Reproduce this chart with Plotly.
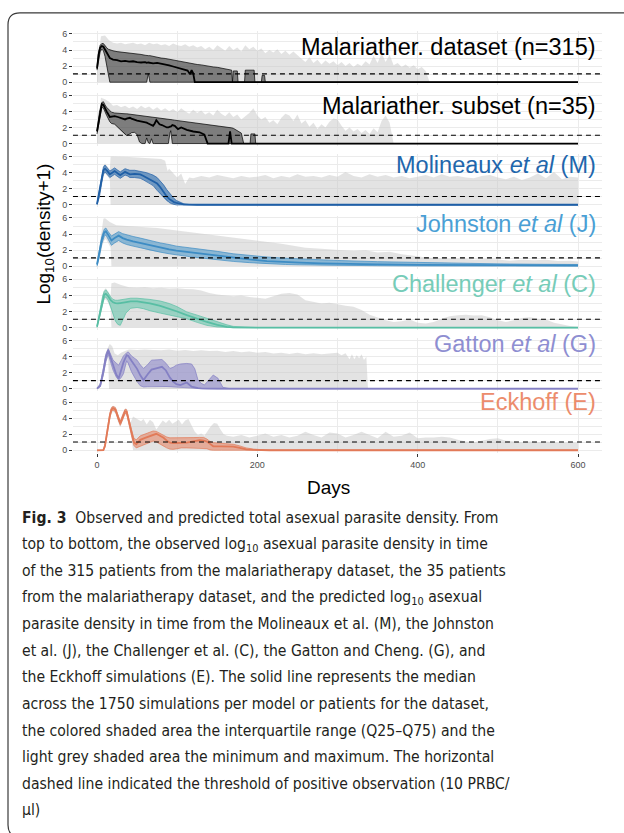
import plotly.graph_objects as go

W, H = 624, 833
THRESHOLD = 1.04  # log10(10 + 1): threshold of positive observation

X_TICKS = [0, 200, 400, 600]
X_MINOR = [100, 300, 500]
Y_TICKS = [0, 2, 4, 6]
Y_MINOR = [1, 3, 5]

# ---------------- Panel 1 : Malariatherapy dataset (n=315) ----------------
P1_GREY_DAYS = list(range(0, 415, 5)) + [415]
P1_GREY_MAX = [2.2, 5.7, 5.8, 5.2, 4.9, 4.8, 4.9, 4.7, 4.8, 4.9,
               4.7, 4.8, 4.6, 4.9, 4.7, 4.8, 4.6, 4.7, 4.5, 4.8,
               4.6, 4.5, 4.7, 4.4, 4.6, 4.3, 4.5, 4.1, 4.4, 4.0,
               4.6, 4.2, 3.9, 4.5, 4.0, 4.3, 3.8, 4.6, 4.1, 4.4,
               3.9, 4.2, 3.6, 4.0, 3.7, 4.1, 3.5, 3.9, 3.4, 3.8,
               3.3, 2.9, 2.5, 3.1, 2.4, 2.8, 2.2, 2.7, 2.3, 2.6,
               2.1, 2.5, 2.0, 2.4, 1.9, 2.3, 2.0, 2.6, 2.2, 3.3,
               2.4, 3.6, 2.5, 3.4, 2.1, 2.4, 1.9, 2.2, 1.8, 2.1,
               1.6, 1.9, 1.4, 0.0]
P1_GREY_MIN_DAYS = [0, 415]
P1_GREY_MIN = [0.0, 0.0]
P1_DAYS = [0, 2, 4, 6, 8, 10, 12, 14, 16,
           20, 25, 30, 35, 40, 45, 50, 55, 60,
           62, 64, 66,
           70, 75, 80, 85, 90, 95, 100, 105, 110,
           113, 116, 118, 120, 122,
           125, 130, 135, 140, 145, 150, 155, 160, 165,
           168, 169, 170, 175, 176,
           184, 185, 196, 197,
           205, 206, 209, 210,
           600]
P1_Q25 = [1.5, 2.8, 3.8, 4.1, 3.9, 3.2, 2.2, 1.0, 0.0,
          0, 0, 0, 0, 0, 0, 0, 0, 0,
          0, 1.1, 0,
          0, 0, 0, 0, 0, 0, 0, 0, 0,
          0, 0, 0, 0, 0,
          0, 0, 0, 0, 0, 0, 0, 0, 0,
          0, 0, 0, 0, 0,
          0, 0, 0, 0,
          0, 0, 0, 0,
          0]
P1_MED = [1.7, 3.4, 4.3, 4.5, 4.4, 4.0, 3.6, 3.2, 3.0,
          2.8, 2.75, 2.6, 2.65, 2.55, 2.6, 2.5, 2.45, 2.5,
          2.4, 2.45, 2.4,
          2.35, 2.4, 2.3, 2.25, 2.1, 1.95, 1.8, 1.65, 1.5,
          1.45, 1.0, 1.5, 1.1, 0.0,
          0, 0, 0, 0, 0, 0, 0, 0, 0,
          0, 0, 0, 0, 0,
          0, 0, 0, 0,
          0, 0, 0, 0,
          0]
P1_Q75 = [1.9, 3.8, 4.6, 4.8, 4.8, 4.5, 4.3, 4.1, 4.0,
          3.9, 3.8, 3.75, 3.7, 3.6, 3.6, 3.5, 3.45, 3.35,
          3.3, 3.3, 3.3,
          3.2, 3.1, 3.0, 2.95, 2.85, 2.75, 2.7, 2.6, 2.5,
          2.45, 2.4, 2.35, 2.3, 2.25,
          2.2, 2.15, 2.05, 2.0, 1.9, 1.85, 1.75, 1.65, 1.55,
          1.5, 0.0, 1.4, 1.4, 0.0,
          0.0, 1.5, 1.5, 0.0,
          0.0, 0.85, 0.85, 0.0,
          0.0]

# ---------------- Panel 2 : Malariatherapy subset (n=35) ----------------
P2_GREY_DAYS = list(range(0, 375, 5))
P2_GREY_MAX = [1.5, 5.7, 5.5, 5.2, 4.7, 4.8, 4.5, 4.7, 4.4, 4.6,
               4.3, 4.7, 4.4, 4.6, 4.2, 4.5, 4.1, 4.4, 4.0, 4.3,
               3.9, 4.4, 4.0, 3.7, 4.2, 3.8, 4.1, 3.6, 3.9, 3.5,
               4.2, 3.7, 3.4, 3.9, 3.3, 3.6, 3.0, 3.4, 3.8, 4.4,
               3.5, 3.0, 3.3, 2.6, 2.9, 2.4, 3.2, 3.7, 3.5, 2.8,
               3.6, 2.5, 2.9, 2.1, 2.6, 1.8, 2.4, 2.0, 2.7, 3.1,
               3.0, 2.2, 1.6, 2.0, 1.5, 1.8, 1.3, 1.7, 1.2, 1.9,
               1.4, 2.8, 3.5, 2.6, 0.0]
P2_GREY_MIN_DAYS = [0, 370]
P2_GREY_MIN = [0.0, 0.0]
P2_DAYS = [0, 3, 6, 8, 10, 12,
           16, 18, 22, 26, 29,
           33, 35, 37, 41, 43,
           47, 50, 53, 56, 60,
           62, 64, 66, 68, 70,
           72, 74, 78, 81, 87,
           89, 91, 92, 94, 97,
           101, 105, 112, 120, 128,
           134, 138, 149, 160, 164,
           166, 168, 170, 176, 180,
           183, 191, 192, 197, 198,
           600]
P2_Q25 = [1.2, 3.0, 4.5, 4.4, 3.9, 3.5,
          2.7, 2.5, 2.4, 2.0, 1.7,
          1.3, 1.1, 1.0, 1.2, 1.35,
          1.4, 1.1, 0.2, 0, 0,
          0.7, 0.1, 0, 0.6, 0,
          0, 0, 0, 0, 0,
          0, 1.3, 1.6, 0, 0,
          0, 0, 0, 0, 0,
          0, 0, 0, 0, 0,
          0, 0, 0, 0, 0,
          0, 0, 0, 0, 0,
          0]
P2_MED = [1.5, 3.5, 4.9, 4.8, 4.3, 4.0,
          3.3, 3.35, 3.4, 3.3, 3.2,
          3.05, 3.0, 3.1, 3.2, 3.1,
          2.9, 2.85, 2.8, 2.75, 2.7,
          2.6, 2.5, 2.4, 2.3, 2.2,
          2.5, 2.9, 2.4, 2.3, 2.0,
          2.0, 2.1, 2.1, 2.3, 2.2,
          1.8, 2.0, 1.7, 1.5, 1.4,
          1.1, 0, 0, 0, 0,
          1.5, 0, 0, 0, 0,
          0, 0, 0, 0, 0,
          0]
P2_Q75 = [1.6, 3.9, 5.1, 5.2, 4.8, 4.5,
          4.1, 3.9, 3.8, 3.75, 3.7,
          3.7, 3.7, 3.7, 3.65, 3.6,
          3.6, 3.55, 3.5, 3.5, 3.45,
          3.45, 3.4, 3.35, 3.3, 3.3,
          3.25, 3.25, 3.2, 3.15, 3.05,
          3.05, 3.0, 3.0, 2.95, 2.9,
          2.85, 2.8, 2.75, 2.6, 2.5,
          2.4, 2.35, 2.2, 2.05, 2.0,
          2.0, 1.95, 1.9, 1.6, 1.3,
          0, 0, 1.2, 1.2, 0,
          0]

# ---------------- Panel 3 : Molineaux et al (M) ----------------
M_GREY_DAYS = [0, 3, 6, 8, 10, 13, 16, 17, 20, 30, 40, 50, 60, 70, 80, 85, 88,
               90, 95, 100, 105, 110, 115] + list(range(120, 610, 10))
M_GREY_MAX = [0.2, 2.1, 4.0, 4.9, 5.15, 4.8, 4.4, 6.0, 6.0, 6.0, 5.95, 5.9, 5.85,
              5.8, 5.7, 5.5, 4.2, 4.5, 4.0, 3.4, 3.9, 2.6, 3.4,
              3.3, 3.6, 3.4, 3.7, 3.5, 3.3, 3.6, 3.4, 3.5, 3.7,
              3.3, 3.6, 3.4, 3.8, 3.5, 3.6, 3.4, 3.7, 3.5, 4.1,
              3.6, 3.4, 3.8, 3.5, 3.7, 3.4, 3.6, 3.3, 3.5, 3.7,
              3.4, 3.8, 3.5, 3.6, 3.4, 3.3, 3.6, 3.7, 3.4, 3.2,
              3.5, 3.1, 3.4, 3.9, 3.3, 4.1, 3.2, 3.5, 3.4]
M_GREY_MIN_DAYS = [0, 3, 6, 8, 10, 13, 16, 17, 600]
M_GREY_MIN = [0.0, 0.8, 2.6, 3.6, 3.9, 3.6, 3.2, 0.0, 0.0]
M_DAYS = [0, 3, 6, 8, 10, 13, 16, 19, 22, 26, 29, 32, 35, 38, 41, 47, 54, 58,
          62, 66, 70, 75, 79, 83, 87, 90, 93, 96, 99, 104, 108, 115, 125, 600]
M_Q25 = [0, 1.0, 2.8, 3.8, 4.1, 3.8, 3.4, 3.6, 3.8, 3.5, 3.3, 3.5, 3.7, 3.6, 3.4,
         3.4, 3.3, 3.1, 2.9, 2.7, 2.4, 1.8, 1.4, 0.9, 0.5, 0.3, 0.15, 0.05, 0, 0,
         0, 0, 0, 0]
M_MED = [0.1, 1.5, 3.3, 4.3, 4.5, 4.2, 3.8, 4.0, 4.2, 3.9, 3.7, 3.9, 4.1, 3.95, 3.8,
         3.85, 3.8, 3.6, 3.4, 3.2, 3.0, 2.65, 2.2, 1.6, 1.05, 0.75, 0.5, 0.35, 0.25,
         0.12, 0.07, 0.04, 0.02, 0.02]
M_Q75 = [0.15, 1.9, 3.8, 4.7, 4.95, 4.6, 4.2, 4.4, 4.6, 4.3, 4.1, 4.3, 4.5, 4.4, 4.3,
         4.3, 4.2, 4.1, 4.0, 3.85, 3.7, 3.4, 3.0, 2.5, 1.9, 1.5, 1.1, 0.8, 0.55,
         0.3, 0.15, 0.06, 0.03, 0.02]

# ---------------- Panel 4 : Johnston et al (J) ----------------
J_GREY_DAYS = [0, 3, 6, 8, 10, 16, 24, 35, 45, 60, 75, 87, 100, 112, 125, 140, 155,
               170, 185, 200, 215, 230, 245, 260, 275, 290, 305, 320, 335, 350, 365,
               380, 395, 410, 425, 440, 455, 470, 485, 500, 515, 530, 545, 560, 575,
               590, 600]
J_GREY_MAX = [0.4, 2.4, 4.2, 5.9, 5.95, 5.5, 5.1, 5.05, 4.95, 4.85, 4.75, 4.6, 4.45,
              4.35, 4.1, 3.95, 3.8, 3.6, 3.4, 3.2, 3.0, 2.8, 2.55, 2.3, 2.2, 2.1, 2.0,
              1.9, 2.0, 1.7, 1.8, 1.5, 1.3, 1.1, 1.0, 0.9, 0.95, 0.8, 0.9, 0.85, 0.7,
              0.8, 0.75, 0.8, 0.65, 0.7, 0.6]
J_GREY_MIN_DAYS = [0, 3, 6, 9, 11, 14, 17, 18, 600]
J_GREY_MIN = [0.0, 0.9, 2.4, 3.2, 3.4, 2.9, 2.3, 0.0, 0.0]
J_DAYS = [0, 3, 6, 9, 11, 14, 18, 22, 27, 32, 37, 45, 54, 65, 79, 90, 99, 115, 128,
          150, 170, 190, 212, 235, 253, 280, 300, 350, 400, 450, 500, 550, 600]
J_Q25 = [0, 1.2, 2.8, 3.7, 3.9, 3.4, 2.6, 2.9, 3.2, 2.9, 2.7, 2.5, 2.3, 2.0, 1.75,
         1.55, 1.4, 1.2, 1.05, 0.8, 0.6, 0.45, 0.3, 0.22, 0.18, 0.13, 0.1, 0.07,
         0.04, 0.03, 0.02, 0.01, 0.01]
J_MED = [0.2, 1.7, 3.3, 4.2, 4.35, 3.9, 3.2, 3.5, 3.8, 3.5, 3.3, 3.1, 2.9, 2.6, 2.3,
         2.1, 1.95, 1.75, 1.6, 1.3, 1.05, 0.85, 0.65, 0.52, 0.45, 0.37, 0.32, 0.24,
         0.18, 0.15, 0.12, 0.11, 0.1]
J_Q75 = [0.3, 2.1, 3.7, 4.6, 4.75, 4.3, 3.75, 4.0, 4.3, 4.05, 3.9, 3.7, 3.5, 3.2, 2.9,
         2.7, 2.5, 2.3, 2.15, 1.85, 1.55, 1.35, 1.15, 1.0, 0.9, 0.8, 0.72, 0.57,
         0.45, 0.36, 0.3, 0.25, 0.22]

# ---------------- Panel 5 : Challenger et al (C) ----------------
C_GREY_DAYS = [0, 4, 7, 9, 11, 14, 17, 18, 22] + list(range(30, 610, 10))
C_GREY_MAX = [0.3, 2.6, 4.1, 4.7, 4.9, 4.5, 4.0, 5.5, 5.6,
              5.3, 5.0, 4.95, 5.0, 4.9, 4.95, 4.85, 4.9, 4.8, 4.75,
              4.6, 4.3, 4.1, 4.0, 3.9, 4.0, 3.8, 3.7, 3.6, 3.9,
              4.2, 4.3, 4.1, 3.4, 3.2, 3.0, 3.1, 2.9, 2.7, 2.6,
              2.2, 1.6, 1.2, 0.9, 0.7, 0.8, 1.0, 0.6, 0.5, 0.7,
              1.1, 1.4, 1.55, 1.6, 1.5, 1.55, 1.3, 0.9, 0.7, 0.9,
              1.2, 1.3, 1.1, 1.0, 0.6, 0.4, 0.2, 0.1]
C_GREY_MIN_DAYS = [0, 4, 7, 9, 11, 14, 17, 18, 600]
C_GREY_MIN = [0.0, 1.4, 2.8, 3.4, 3.5, 3.1, 2.3, 0.0, 0.0]
C_DAYS = [0, 4, 7, 9, 11, 14, 17, 20, 23, 26, 29, 32, 36, 42, 50, 58, 66, 79, 90,
          100, 112, 125, 137, 150, 162, 170, 185, 200, 600]
C_Q25 = [0, 1.6, 3.1, 3.7, 3.8, 3.4, 2.6, 1.6, 0.8, 0.4, 0.28, 0.9, 1.8, 2.4, 2.5,
         2.35, 2.1, 1.8, 1.55, 1.35, 1.1, 0.65, 0.28, 0.08, 0, 0, 0, 0, 0]
C_MED = [0.1, 2.0, 3.5, 4.1, 4.2, 3.9, 3.4, 3.15, 3.05, 3.0, 3.05, 3.1, 3.2, 3.25,
         3.25, 3.15, 3.0, 2.7, 2.35, 2.0, 1.55, 1.1, 0.7, 0.35, 0.1, 0.04, 0.01, 0, 0]
C_Q75 = [0.2, 2.4, 3.9, 4.5, 4.7, 4.3, 3.8, 3.5, 3.4, 3.4, 3.45, 3.55, 3.6, 3.65,
         3.65, 3.6, 3.5, 3.3, 3.0, 2.6, 1.95, 1.55, 1.15, 0.75, 0.35, 0.15, 0.05,
         0.01, 0]

# ---------------- Panel 6 : Gatton et al (G) ----------------
G_GREY_DAYS = ([0, 4, 8, 11, 14, 16, 19, 22, 26, 30, 35] + list(range(40, 310, 10))
               + [305, 310, 315, 318, 321, 324, 327, 330, 333, 336, 338])
G_GREY_MAX = [0.15, 0.8, 2.9, 4.5, 5.2, 5.6, 5.3, 4.4, 4.2, 4.5, 4.7,
              4.9, 4.85, 4.9, 4.85, 4.8, 4.9, 4.75, 4.85, 4.7, 4.8,
              4.7, 4.75, 4.6, 4.7, 4.55, 4.65, 4.5, 4.6, 4.4, 4.5,
              4.35, 4.5, 4.3, 4.45, 4.3, 4.4, 4.5,
              4.2, 4.45, 3.7, 4.3, 3.7, 4.2, 3.8, 4.3, 3.6, 4.0, 0.0]
G_GREY_MIN_DAYS = [0, 4, 8, 11, 14, 15, 338]
G_GREY_MIN = [0.0, 0.2, 1.5, 3.1, 4.0, 0.0, 0.0]
G_DAYS = [0, 4, 8, 11, 14, 17, 20, 24, 27, 30, 33, 37, 39, 43, 47, 50, 54, 58, 63,
          68, 75, 81, 86, 91, 95, 99, 104, 108, 112, 118, 122, 126, 130, 134, 140,
          145, 151, 157, 165, 600]
G_Q25 = [0, 0.3, 1.8, 3.4, 4.3, 3.4, 2.35, 1.5, 1.1, 1.4, 1.9, 3.5, 3.2, 2.14, 1.4,
         0.91, 0.4, 0.25, 0.28, 0.3, 0.3, 0.3, 0.3, 0.28, 0.25, 0.22, 0.2, 0.2, 0.18,
         0.15, 0.1, 0.05, 0.03, 0.02, 0.01, 0, 0, 0, 0, 0]
G_MED = [0.05, 0.4, 2.2, 3.9, 4.8, 3.9, 2.9, 1.8, 1.3, 2.2, 3.3, 4.2, 4.1, 3.5, 3.0,
         2.5, 1.7, 1.1, 1.8, 2.4, 2.6, 2.75, 2.3, 1.4, 0.91, 0.6, 0.49, 0.65, 0.8,
         0.29, 0.15, 0.1, 0.07, 0.05, 0.05, 0.05, 0.05, 0.04, 0.03, 0.03]
G_Q75 = [0.1, 0.6, 2.6, 4.3, 5.0, 4.3, 3.6, 3.2, 2.96, 3.5, 4.1, 4.5, 4.6, 4.1, 3.8,
         3.58, 3.0, 2.55, 3.0, 3.58, 3.62, 3.66, 3.2, 2.55, 2.7, 2.96, 3.1, 3.17,
         3.17, 3.1, 2.5, 1.11, 0.7, 0.49, 1.2, 1.73, 1.32, 0.2, 0.05, 0.03]

# ---------------- Panel 7 : Eckhoff (E) ----------------
E_GREY_DAYS = ([0, 8, 10, 13, 16, 18, 20, 23, 26, 29, 32, 35, 37, 40, 42, 45, 50, 55,
                58, 62, 66, 70, 74, 78, 82, 86, 90, 94, 98, 102, 106, 110, 114, 118,
                122, 126, 130, 134, 138, 142, 146, 150, 154, 158, 162]
               + list(range(170, 610, 10)))
E_GREY_MAX = [0.02, 0.05, 0.9, 3.0, 4.7, 5.4, 5.55, 5.4, 4.5, 3.7,
              4.5, 5.2, 5.15, 3.8, 3.5, 4.2, 3.9, 3.6, 3.9, 3.2,
              3.8, 3.5, 2.6, 3.1, 3.7, 3.4, 3.8, 3.3, 3.6, 3.8,
              3.2, 3.7, 3.9, 3.1, 2.3, 1.9, 2.1, 1.8, 2.4, 3.0,
              3.4, 3.3, 2.6, 2.0, 1.8,
              1.7, 1.9, 1.6, 1.8, 2.1, 1.7, 1.9, 1.6, 1.8, 2.3,
              1.9, 1.6, 2.2, 2.1, 1.6, 1.9, 2.3, 1.9, 1.5, 2.3,
              1.7, 1.8, 2.2, 1.5, 1.6, 1.6, 1.7, 1.6, 1.3, 1.1,
              1.0, 1.2, 1.4, 1.5, 1.2, 1.1, 1.0, 1.1, 1.0, 1.1,
              1.0, 0.9, 1.0, 0.9]
E_GREY_MIN_DAYS = [0, 8, 10, 13, 16, 18, 20, 23, 26, 29, 32, 35, 37, 40, 43, 45, 600]
E_GREY_MIN = [0, 0, 0.3, 2.1, 3.8, 4.6, 4.8, 4.6, 3.6, 2.9, 3.6, 4.4, 4.3, 2.9, 1.5,
              0, 0]
E_DAYS = [0, 8, 10, 13, 16, 18, 20, 23, 26, 29, 32, 35, 37, 40, 43, 46, 49, 54, 60,
          66, 70, 74, 78, 83, 87, 91, 95, 100, 105, 112, 120, 128, 133, 137, 141, 145,
          155, 165, 170, 178, 186, 195, 205, 215, 600]
E_Q25 = [0, 0, 0.4, 2.3, 4.0, 4.8, 5.0, 4.8, 3.8, 3.1, 3.8, 4.6, 4.5, 3.1, 1.8, 0.6,
         0.3, 0.5, 0.75, 0.95, 1.15, 1.05, 0.8, 0.5, 0.3, 0.15, 0.12, 0.2, 0.3, 0.3,
         0.28, 0.3, 0.25, 0.2, 0.05, 0, 0, 0, 0, 0, 0, 0, 0, 0, 0]
E_MED = [0, 0.02, 0.6, 2.6, 4.3, 5.05, 5.25, 5.05, 4.1, 3.35, 4.1, 4.85, 4.8, 3.4,
         2.2, 1.0, 0.75, 1.3, 1.55, 1.8, 1.95, 2.05, 1.85, 1.55, 1.2, 0.95, 0.9, 0.92,
         0.95, 0.95, 1.1, 1.25, 1.2, 1.1, 0.8, 0.5, 0.5, 0.45, 0.45, 0.3, 0.12, 0.05,
         0.02, 0.01, 0.01]
E_Q75 = [0.02, 0.05, 0.8, 2.9, 4.6, 5.3, 5.45, 5.3, 4.4, 3.6, 4.4, 5.1, 5.05, 3.7,
         2.6, 1.5, 1.3, 1.8, 2.0, 2.25, 2.4, 2.35, 2.15, 1.8, 1.65, 1.55, 1.55, 1.5,
         1.52, 1.55, 1.58, 1.6, 1.6, 1.4, 1.1, 0.95, 0.85, 0.78, 0.75, 0.55, 0.3,
         0.15, 0.05, 0.02, 0.01]

LABELS = ["Malariather. dataset (n=315)", "Malariather. subset (n=35)",
          "Molineaux <i>et al</i> (M)", "Johnston <i>et al</i> (J)",
          "Challenger <i>et al</i> (C)", "Gatton <i>et al</i> (G)", "Eckhoff (E)"]

CAPTION_LINES = [
    "<b>Fig. 3</b>\u00a0\u00a0Observed and predicted total asexual parasite density. From",
    "top to bottom, the observed log<sub>10</sub> asexual parasite density in time",
    "of the 315 patients from the malariatherapy dataset, the 35 patients",
    "from the malariatherapy dataset, and the predicted log<sub>10</sub> asexual",
    "parasite density in time from the Molineaux et al. (M), the Johnston",
    "et al. (J), the Challenger et al. (C), the Gatton and Cheng. (G), and",
    "the Eckhoff simulations (E). The solid line represents the median",
    "across the 1750 simulations per model or patients for the dataset,",
    "the colored shaded area the interquartile range (Q25\u2013Q75) and the",
    "light grey shaded area the minimum and maximum. The horizontal",
    "dashed line indicated the threshold of positive observation (10 PRBC/",
    "\u00b5l)",
]

# ---------------- styling ----------------
FONT = "Liberation Sans, Arial, Helvetica, sans-serif"
CAP_FONT = "DejaVu Sans Condensed, Liberation Sans, sans-serif"
GRID = "#ebebeb"
GREY_FILL = "rgba(200,200,200,0.5)"

PANELS = [
    dict(gd=P1_GREY_DAYS, gmax=P1_GREY_MAX, gmd=P1_GREY_MIN_DAYS, gmin=P1_GREY_MIN,
         d=P1_DAYS, q25=P1_Q25, med=P1_MED, q75=P1_Q75,
         line="#000000", fill="rgba(0,0,0,0.45)", text="#000000"),
    dict(gd=P2_GREY_DAYS, gmax=P2_GREY_MAX, gmd=P2_GREY_MIN_DAYS, gmin=P2_GREY_MIN,
         d=P2_DAYS, q25=P2_Q25, med=P2_MED, q75=P2_Q75,
         line="#000000", fill="rgba(0,0,0,0.45)", text="#000000"),
    dict(gd=M_GREY_DAYS, gmax=M_GREY_MAX, gmd=M_GREY_MIN_DAYS, gmin=M_GREY_MIN,
         d=M_DAYS, q25=M_Q25, med=M_MED, q75=M_Q75,
         line="#1f5fa6", fill="rgba(33,102,172,0.6)", text="#2166ac"),
    dict(gd=J_GREY_DAYS, gmax=J_GREY_MAX, gmd=J_GREY_MIN_DAYS, gmin=J_GREY_MIN,
         d=J_DAYS, q25=J_Q25, med=J_MED, q75=J_Q75,
         line="#3d8cc4", fill="rgba(67,147,200,0.55)", text="#4a9fd5"),
    dict(gd=C_GREY_DAYS, gmax=C_GREY_MAX, gmd=C_GREY_MIN_DAYS, gmin=C_GREY_MIN,
         d=C_DAYS, q25=C_Q25, med=C_MED, q75=C_Q75,
         line="#58bea4", fill="rgba(95,196,170,0.55)", text="#76ccb8"),
    dict(gd=G_GREY_DAYS, gmax=G_GREY_MAX, gmd=G_GREY_MIN_DAYS, gmin=G_GREY_MIN,
         d=G_DAYS, q25=G_Q25, med=G_MED, q75=G_Q75,
         line="#8480c4", fill="rgba(135,130,200,0.55)", text="#8e8ed1"),
    dict(gd=E_GREY_DAYS, gmax=E_GREY_MAX, gmd=E_GREY_MIN_DAYS, gmin=E_GREY_MIN,
         d=E_DAYS, q25=E_Q25, med=E_MED, q75=E_Q75,
         line="#e27a58", fill="rgba(230,128,95,0.55)", text="#ec8c6c"),
]

for p in PANELS:
    assert len(p["gd"]) == len(p["gmax"]), (len(p["gd"]), len(p["gmax"]))
    assert len(p["gmd"]) == len(p["gmin"])
    assert len(p["d"]) == len(p["q25"]) == len(p["med"]) == len(p["q75"]), (
        len(p["d"]), len(p["q25"]), len(p["med"]), len(p["q75"]))

# ---------------- geometry (pixels) ----------------
X0_PX, X1_PX = 72.95, 602.05
ZERO0_PX, PANEL_STEP_PX, PX_PER_UNIT = 80.7, 61.72, 8.1
YMIN, YMAX = -0.3, 6.3
LABEL_Y_PX = [45.1, 104.8, 163.5, 223.5, 283.5, 344.5, 402.5]


def py(px):
    return 1 - px / H


fig = go.Figure()
layout = {}
shapes = []
annotations = []

for k, p in enumerate(PANELS):
    sfx = "" if k == 0 else str(k + 1)
    xa, ya = "x" + sfx, "y" + sfx
    zero = ZERO0_PX + PANEL_STEP_PX * k
    top = zero - YMAX * PX_PER_UNIT
    bot = zero - YMIN * PX_PER_UNIT
    bottom = (k == len(PANELS) - 1)

    common = dict(xaxis=xa, yaxis=ya, hoverinfo="skip", showlegend=False)
    fig.add_trace(go.Scatter(x=p["gd"] + p["gmd"][::-1], y=p["gmax"] + p["gmin"][::-1],
                             fill="toself", fillcolor=GREY_FILL, mode="lines",
                             line=dict(width=0), **common))
    fig.add_trace(go.Scatter(x=p["d"] + p["d"][::-1], y=p["q75"] + p["q25"][::-1],
                             fill="toself", fillcolor=p["fill"], mode="lines",
                             line=dict(width=0), **common))
    for q in ("q25", "q75"):
        fig.add_trace(go.Scatter(x=p["d"], y=p[q], mode="lines",
                                 line=dict(color=p["line"], width=0.7), **common))
    fig.add_trace(go.Scatter(x=p["d"], y=p["med"], mode="lines",
                             line=dict(color=p["line"], width=1.8), **common))

    layout["xaxis" + sfx] = dict(
        domain=[X0_PX / W, X1_PX / W], range=[-30, 630], anchor=ya,
        tickmode="array", tickvals=X_TICKS, showticklabels=bottom,
        ticks="outside" if bottom else "", ticklen=3, tickwidth=1, tickcolor="#333333",
        tickfont=dict(family=FONT, size=9, color="#4d4d4d"),
        showgrid=True, gridcolor=GRID, gridwidth=1,
        minor=dict(tickmode="array", tickvals=X_MINOR, showgrid=True,
                   gridcolor=GRID, gridwidth=0.6, ticks=""),
        zeroline=False, showline=False, fixedrange=True)
    layout["yaxis" + sfx] = dict(
        domain=[py(bot), py(top)], range=[YMIN, YMAX], anchor=xa,
        tickmode="array", tickvals=Y_TICKS, ticks="outside", ticklen=3, tickwidth=1,
        tickcolor="#333333", tickfont=dict(family=FONT, size=9, color="#4d4d4d"),
        showgrid=True, gridcolor=GRID, gridwidth=1,
        minor=dict(tickmode="array", tickvals=Y_MINOR, showgrid=True,
                   gridcolor=GRID, gridwidth=0.6, ticks=""),
        zeroline=False, showline=False, fixedrange=True)

    shapes.append(dict(type="line", xref=xa + " domain", x0=0, x1=1, yref=ya,
                       y0=THRESHOLD, y1=THRESHOLD,
                       line=dict(color="#000000", width=1.1, dash="5px,4px")))

    annotations.append(dict(text=LABELS[k], xref="paper", yref="paper",
                            x=598 / W, y=py(LABEL_Y_PX[k]), xanchor="right",
                            yanchor="middle", showarrow=False,
                            font=dict(family=FONT, size=23.5, color=p["text"])))

# axis titles
annotations.append(dict(text="Days", xref="paper", yref="paper", x=328 / W, y=py(488),
                        xanchor="center", yanchor="middle", showarrow=False,
                        font=dict(family=FONT, size=19, color="#000000")))
annotations.append(dict(text="Log<sub>10</sub>(density+1)", xref="paper", yref="paper",
                        x=45 / W, y=py(233), xanchor="center", yanchor="middle",
                        textangle=-90, showarrow=False,
                        font=dict(family=FONT, size=19, color="#000000")))

# caption
for i, line in enumerate(CAPTION_LINES):
    annotations.append(dict(text=line, xref="paper", yref="paper", x=20 / W,
                            y=py(519.3 + 26.7 * i), xanchor="left", yanchor="middle",
                            showarrow=False, align="left",
                            font=dict(family=CAP_FONT, size=15.6, color="#231f20")))

# rounded frame
L, T, R, B, RAD = 8, 11, 660, 840, 12


def pt(x, y):
    return f"{x / W:.5f},{py(y):.5f}"


frame = (f"M {pt(R, B)} L {pt(L + RAD, B)} Q {pt(L, B)} {pt(L, B - RAD)} "
         f"L {pt(L, T + RAD)} Q {pt(L, T)} {pt(L + RAD, T)} L {pt(R, T)}")
shapes.append(dict(type="path", xref="paper", yref="paper", path=frame,
                   line=dict(color="#3a3a3a", width=1.2)))

fig.update_layout(width=W, height=H, margin=dict(l=0, r=0, t=0, b=0),
                  paper_bgcolor="#ffffff", plot_bgcolor="#ffffff",
                  shapes=shapes, annotations=annotations, showlegend=False, **layout)

fig.write_html("out.html", config={"displayModeBar": False})
